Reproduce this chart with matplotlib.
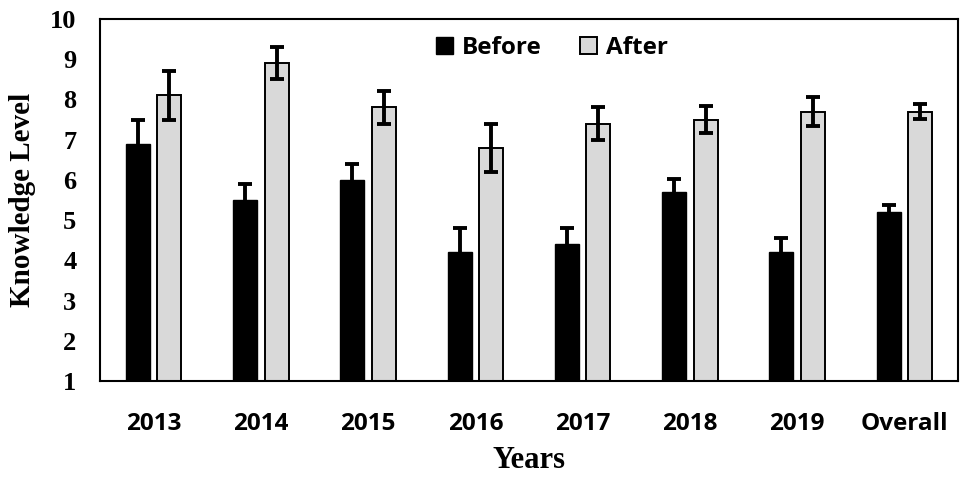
import matplotlib
matplotlib.use("Agg")
import matplotlib.pyplot as plt
import numpy as np

categories = ["2013", "2014", "2015", "2016", "2017", "2018", "2019", "Overall"]
before = [6.9, 5.5, 6.0, 4.2, 4.4, 5.7, 4.2, 5.2]
before_err = [0.6, 0.4, 0.4, 0.6, 0.4, 0.33, 0.35, 0.18]
after = [8.1, 8.9, 7.8, 6.8, 7.4, 7.5, 7.7, 7.7]
after_err = [0.6, 0.4, 0.4, 0.6, 0.4, 0.33, 0.35, 0.18]
yticks = [1, 2, 3, 4, 5, 6, 7, 8, 9, 10]

fig = plt.figure(figsize=(9.66, 4.8), dpi=100)
ax = fig.add_axes([100/966, 1 - 381/480, 858/966, 362/480])

x = np.arange(len(categories))
w = 0.225
off = 0.147
bottom = 1
ax.bar(x - off, np.array(before) - bottom, w, bottom=bottom, color="black",
       edgecolor="black", linewidth=1.0, label="Before", zorder=2)
ax.bar(x + off, np.array(after) - bottom, w, bottom=bottom, color="#d9d9d9",
       edgecolor="black", linewidth=1.4, label="After", zorder=2)
ekw = dict(fmt="none", ecolor="black", elinewidth=2.8, capsize=5, capthick=2.8, zorder=3)
ax.errorbar(x - off, before, yerr=before_err, **ekw)
ax.errorbar(x + off, after, yerr=after_err, **ekw)

ax.set_xlim(-0.5, len(categories) - 0.5)
ax.set_ylim(1, 10)
ax.set_yticks(yticks)
ax.set_yticklabels([str(t) for t in yticks], fontfamily="Liberation Serif",
                   fontweight="bold", fontsize=19)
ax.set_xticks(x)
ax.set_xticklabels(categories, fontfamily="Open Sans", fontweight="bold", fontsize=17.5)
ax.tick_params(axis="both", length=0)
ax.tick_params(axis="x", pad=22)
ax.tick_params(axis="y", pad=17)
for s in ax.spines.values():
    s.set_linewidth(1.5)
    s.set_color("black")

ax.set_ylabel("Knowledge Level", fontfamily="Liberation Serif", fontweight="bold",
              fontsize=21, va="center")
ax.yaxis.set_label_coords((22.5 - 100) / 858, 0.5)
ax.set_xlabel("Years", fontfamily="Liberation Serif", fontweight="bold",
              fontsize=22, va="center")
ax.xaxis.set_label_coords(0.5, (381 - 461) / 362)

leg = ax.legend(loc="center", bbox_to_anchor=((552 - 100) / 858, (381 - 48) / 362), ncol=2,
                frameon=False,
                prop={"family": "Open Sans", "weight": "bold", "size": 17.5},
                handlelength=0.7, handleheight=0.7, handletextpad=0.35,
                columnspacing=1.6, borderpad=0)

fig.savefig("out.png", dpi=100)
